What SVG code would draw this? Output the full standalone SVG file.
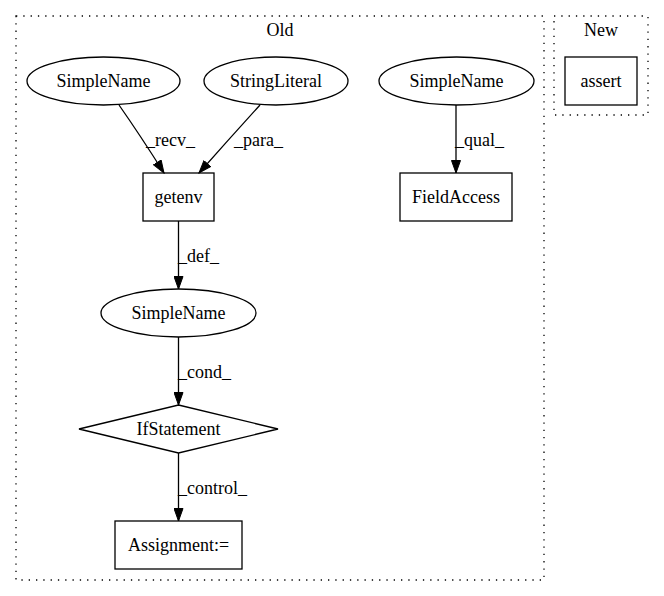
<svg xmlns="http://www.w3.org/2000/svg" width="664" height="596" viewBox="0 0 664 596">
<defs>
<style>
text{font-family:"Liberation Serif","Times New Roman",serif;font-size:18px;fill:#000}
.n{fill:none;stroke:#000;stroke-width:1.3}
.c{fill:none;stroke:#000;stroke-width:1.3;stroke-dasharray:1.3,6}
.e{fill:none;stroke:#000;stroke-width:1.3;marker-end:url(#ah)}
.m{text-anchor:middle}
</style>
<marker id="ah" markerUnits="userSpaceOnUse" markerWidth="14" markerHeight="10" refX="13" refY="5" orient="auto">
<path d="M0.5,0.5 L13,5 L0.5,9.5 z" fill="#000" stroke="#000"/>
</marker>
</defs>
<g id="cluster_old">
<rect class="c" x="16" y="16" width="528" height="564"/>
<text class="m" x="280" y="36">Old</text>
</g>
<g id="cluster_new">
<rect class="c" x="554" y="16" width="94" height="99"/>
<text class="m" x="601" y="36">New</text>
</g>
<g id="simplename1">
<ellipse class="n" cx="103.5" cy="81" rx="76.5" ry="24"/>
<text class="m" x="103.5" y="87">SimpleName</text>
</g>
<g id="stringliteral">
<ellipse class="n" cx="276" cy="81" rx="72" ry="24"/>
<text class="m" x="276" y="87">StringLiteral</text>
</g>
<g id="simplename3">
<ellipse class="n" cx="456.5" cy="81" rx="77.5" ry="24"/>
<text class="m" x="456.5" y="87">SimpleName</text>
</g>
<g id="assert">
<rect class="n" x="565" y="57" width="72" height="48"/>
<text class="m" x="601" y="87">assert</text>
</g>
<g id="getenv">
<rect class="n" x="143" y="173" width="71" height="48"/>
<text class="m" x="178.5" y="203">getenv</text>
</g>
<g id="fieldaccess">
<rect class="n" x="400" y="173" width="112" height="48"/>
<text class="m" x="456" y="203">FieldAccess</text>
</g>
<g id="simplename2">
<ellipse class="n" cx="178.5" cy="313" rx="77.5" ry="24"/>
<text class="m" x="178.5" y="319">SimpleName</text>
</g>
<g id="ifstatement">
<polygon class="n" points="178.5,405 278,429 178.5,453 79,429"/>
<text class="m" x="178.5" y="435">IfStatement</text>
</g>
<g id="assignment">
<rect class="n" x="115" y="521" width="127" height="48"/>
<text class="m" x="178.5" y="551">Assignment:=</text>
</g>
<g id="edges">
<path class="e" d="M119,105 Q140,135 164,173"/>
<text x="146" y="146">_recv_</text>
<path class="e" d="M260,105 Q230,138 199,173"/>
<text x="234" y="146">_para_</text>
<path class="e" d="M456,105 L456,173"/>
<text x="455" y="146">_qual_</text>
<path class="e" d="M178.5,221 L178.5,289"/>
<text x="178" y="262">_def_</text>
<path class="e" d="M178.5,337 L178.5,405"/>
<text x="178" y="378">_cond_</text>
<path class="e" d="M178.5,453 L178.5,521"/>
<text x="178" y="494">_control_</text>
</g>
</svg>
